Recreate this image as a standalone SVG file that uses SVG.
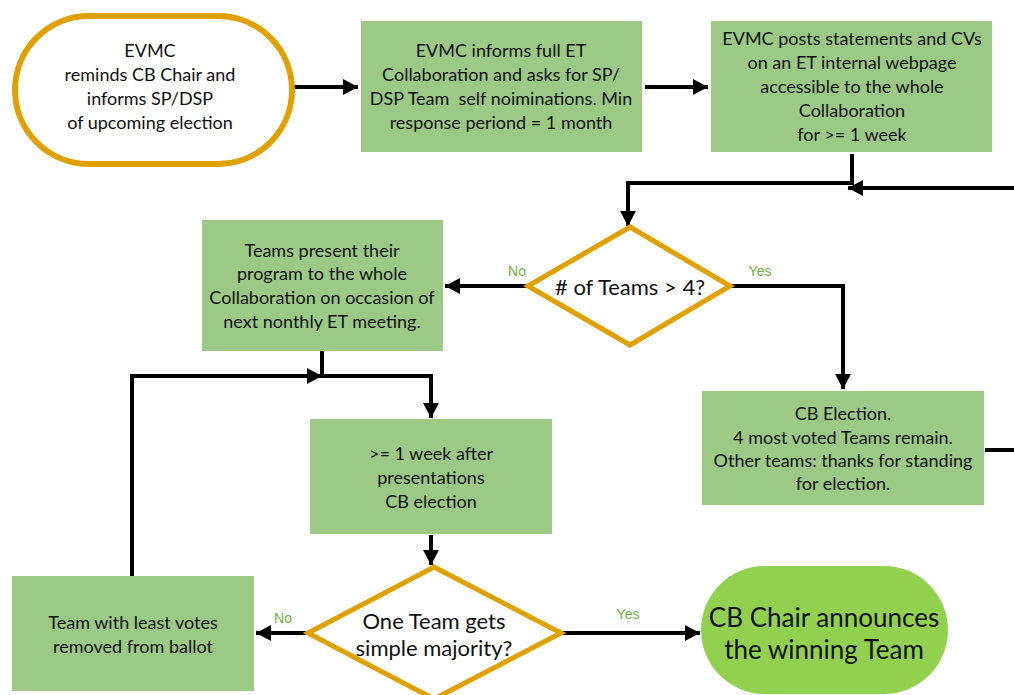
<svg xmlns="http://www.w3.org/2000/svg" width="1014" height="695" viewBox="0 0 1014 695">
<defs>
<marker id="ah" markerUnits="userSpaceOnUse" markerWidth="16" markerHeight="16" refX="15" refY="8" orient="auto">
<path d="M0,0 L15,8 L0,16 z" fill="#000"/>
</marker>
<style>
.box{fill:#9CC985;}
.term{fill:#fff;stroke:#DFA100;stroke-width:6;}
.dia{fill:#fff;stroke:#DFA100;stroke-width:5;stroke-linejoin:miter;}
.t{font-family:Lato,"Open Sans",sans-serif;font-size:18px;fill:#111;text-anchor:middle;dominant-baseline:central;}
.tb{font-family:Lato,"Open Sans",sans-serif;font-size:22px;fill:#111;text-anchor:middle;dominant-baseline:central;}
.tbig{font-family:Lato,"Open Sans",sans-serif;font-size:26px;fill:#111;text-anchor:middle;dominant-baseline:central;}
.lab{font-family:"Liberation Sans",Arial,sans-serif;font-size:14px;fill:#70AD47;text-anchor:middle;dominant-baseline:central;}
.c{fill:none;stroke:#000;stroke-width:4;}
</style>
</defs>
<g id="connectors">
<path class="c" d="M289,87 H358" marker-end="url(#ah)"/>
<path class="c" d="M645,87 H708" marker-end="url(#ah)"/>
<path class="c" d="M852,154 V183 H628 V226" marker-end="url(#ah)"/>
<path class="c" d="M985,450 H1014"/>
<path class="c" d="M1016,188 H848" marker-end="url(#ah)"/>
<path class="c" d="M528,286 H445" marker-end="url(#ah)"/>
<path class="c" d="M730,286 H843 V389" marker-end="url(#ah)"/>
<path class="c" d="M322,351 V376 H431 V418" marker-end="url(#ah)"/>
<path class="c" d="M132,576 V376 H322" marker-end="url(#ah)"/>
<path class="c" d="M431,535 V565" marker-end="url(#ah)"/>
<path class="c" d="M308,633 H256" marker-end="url(#ah)"/>
<path class="c" d="M561,633 H700" marker-end="url(#ah)"/>
<text class="lab" x="517" y="271">No</text>
<text class="lab" x="760" y="271">Yes</text>
<text class="lab" x="283" y="618">No</text>
<text class="lab" x="628" y="614">Yes</text>
</g>
<g id="n1">
<rect class="term" x="15" y="16" width="277" height="148" rx="74" ry="74"/>
<text class="t" x="150" y="50">EVMC</text>
<text class="t" x="150" y="74">reminds CB Chair and</text>
<text class="t" x="150" y="98">informs SP/DSP</text>
<text class="t" x="150" y="122">of upcoming election</text>
</g>
<g id="n2">
<rect class="box" x="361" y="21" width="281" height="131"/>
<text class="t" x="501" y="50">EVMC informs full ET</text>
<text class="t" x="501" y="74">Collaboration and asks for SP/</text>
<text class="t" x="501" y="98" xml:space="preserve">DSP Team  self noiminations. Min</text>
<text class="t" x="501" y="122">response periond = 1 month</text>
</g>
<g id="n3">
<rect class="box" x="711" y="21" width="281" height="131"/>
<text class="t" x="852" y="38">EVMC posts statements and CVs</text>
<text class="t" x="852" y="62">on an ET internal webpage</text>
<text class="t" x="852" y="86">accessible to the whole</text>
<text class="t" x="852" y="110">Collaboration</text>
<text class="t" x="852" y="134">for &gt;= 1 week</text>
</g>
<g id="d1">
<path class="dia" d="M630,227 L730,286 L630,345 L528,286 Z"/>
<text class="tb" x="630" y="286"># of Teams &gt; 4?</text>
</g>
<g id="n4">
<rect class="box" x="202" y="220" width="241" height="131"/>
<text class="t" x="322" y="250">Teams present their</text>
<text class="t" x="322" y="273">program to the whole</text>
<text class="t" x="322" y="297">Collaboration on occasion of</text>
<text class="t" x="322" y="321">next nonthly ET meeting.</text>
</g>
<g id="n7">
<rect class="box" x="702" y="391" width="282" height="114"/>
<text class="t" x="843" y="413">CB Election.</text>
<text class="t" x="843" y="437">4 most voted Teams remain.</text>
<text class="t" x="843" y="460">Other teams: thanks for standing</text>
<text class="t" x="843" y="483">for election.</text>
</g>
<g id="n5">
<rect class="box" x="310" y="419" width="242" height="115"/>
<text class="t" x="431" y="453">&gt;= 1 week after</text>
<text class="t" x="431" y="477">presentations</text>
<text class="t" x="431" y="501">CB election</text>
</g>
<g id="d2">
<path class="dia" d="M434,567 L561,633 L434,699 L308,633 Z"/>
<text class="tb" x="434" y="620">One Team gets</text>
<text class="tb" x="434" y="647">simple majority?</text>
</g>
<g id="n6">
<rect class="box" x="12" y="576" width="242" height="115"/>
<text class="t" x="133" y="622">Team with least votes</text>
<text class="t" x="133" y="646">removed from ballot</text>
</g>
<g id="n8">
<rect x="701" y="566" width="247" height="128" rx="64" ry="64" fill="#92D050"/>
<text class="tbig" x="824" y="617">CB Chair announces</text>
<text class="tbig" x="824" y="649">the winning Team</text>
</g>
</svg>
